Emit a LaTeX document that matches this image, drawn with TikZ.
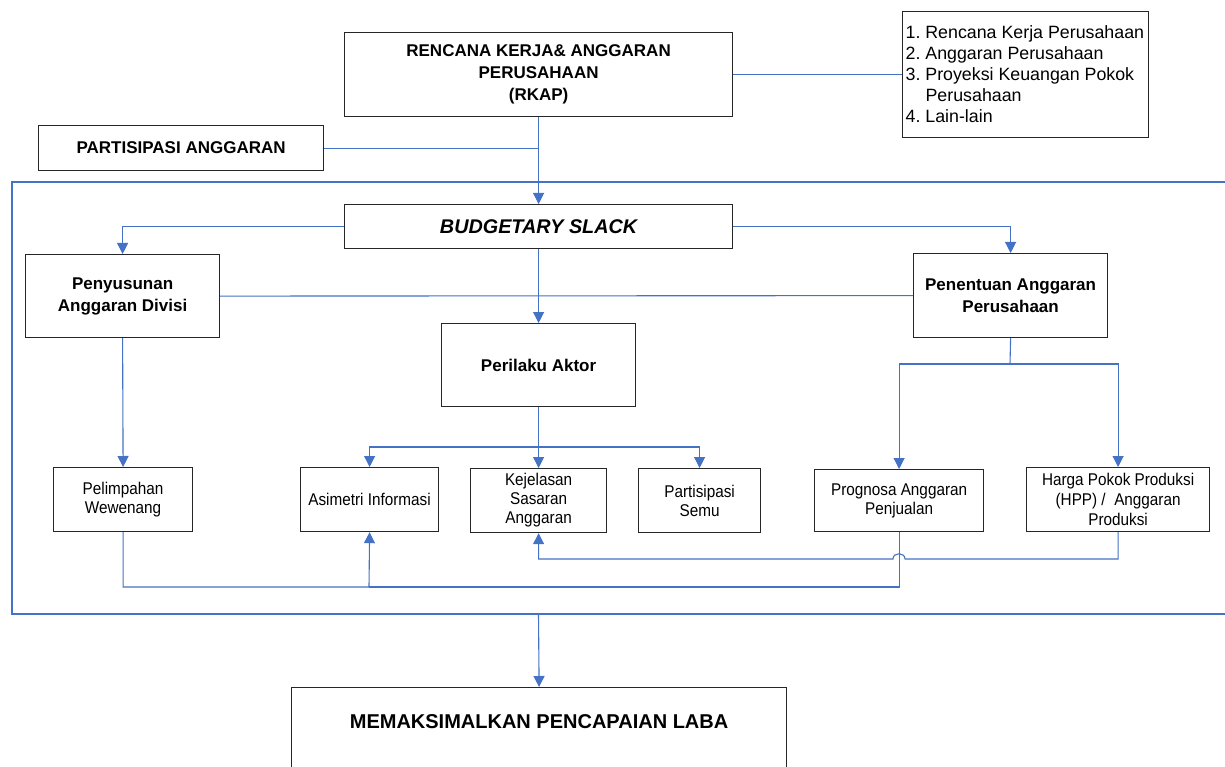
\documentclass[tikz,border=0pt]{standalone}
\usepackage{fontspec}
\setmainfont{Liberation Sans}
\newfontfamily\narrowsans[FakeStretch=0.9]{Liberation Sans}
\usetikzlibrary{arrows.meta}
\definecolor{conn}{RGB}{68,114,196}
\frenchspacing
\begin{document}
\begin{tikzpicture}[x=1pt,y=-1pt,
  box/.style={draw=black!85, line width=1.2pt, fill=white, anchor=north west, inner sep=2pt, align=center},
  boldtxt/.style={font=\bfseries\fontsize{17}{22}\selectfont},
  bigtxt/.style={font=\bfseries\fontsize{20}{23}\selectfont},
  regtxt/.style={font=\narrowsans\fontsize{17}{19}\selectfont},
  wire/.style={draw=conn, line width=1.1pt},
  arr/.style={wire, -{Triangle[width=11pt,length=11pt]}}]
\useasboundingbox (0,0) rectangle (1225,767);
\clip (0,0) rectangle (1225,767);

% frame
\draw[wire] (1240,182) -- (12,182) -- (12,614) -- (1240,614);

% nodes
\node[box, boldtxt, minimum width=388pt, minimum height=84pt] (rkap) at (344,32)
  {RENCANA KERJA\& ANGGARAN\\PERUSAHAAN\\(RKAP)};
\node[box, align=left, inner xsep=3pt, inner ysep=0pt, minimum width=246pt,
  minimum height=126pt, font=\fontsize{17.8}{21}\selectfont] (list) at (902,11)
  {\makebox[240pt][l]{1. Rencana Kerja Perusahaan}\\2. Anggaran Perusahaan\\3. Proyeksi Keuangan Pokok\\\hspace*{20pt}Perusahaan\\4. Lain-lain};
\node[box, boldtxt, minimum width=285pt, minimum height=45pt] (partisipasi) at (38,125)
  {PARTISIPASI ANGGARAN};
\node[box, font=\bfseries\itshape\fontsize{19.8}{23}\selectfont, minimum width=388pt, minimum height=44pt] (budget) at (344,204)
  {BUDGETARY SLACK};
\node[box, boldtxt, minimum width=194pt, minimum height=83pt] (penyusunan) at (25,254)
  {Penyusunan\\Anggaran Divisi};
\node[box, boldtxt, minimum width=194pt, minimum height=84pt] (penentuan) at (913,253)
  {Penentuan Anggaran\\Perusahaan};
\node[box, boldtxt, minimum width=194pt, minimum height=83pt] (perilaku) at (441,323)
  {Perilaku Aktor};
\node[box, regtxt, minimum width=139pt, minimum height=64pt] (pelimpahan) at (53,467)
  {Pelimpahan\\Wewenang};
\node[box, regtxt, minimum width=138pt, minimum height=64pt] (asimetri) at (300,467)
  {Asimetri Informasi};
\node[box, regtxt, minimum width=136pt, minimum height=64pt] (kejelasan) at (470,468)
  {Kejelasan\\Sasaran\\Anggaran};
\node[box, regtxt, minimum width=122pt, minimum height=64pt] (semu) at (638,468)
  {Partisipasi\\Semu};
\node[box, regtxt, minimum width=169pt, minimum height=62pt] (prognosa) at (814,469)
  {Prognosa Anggaran\\Penjualan};
\node[box, regtxt, font=\narrowsans\fontsize{17}{20}\selectfont, minimum width=183pt, minimum height=64pt] (hpp) at (1026,467)
  {Harga Pokok Produksi\\(HPP) /\ \ Anggaran\\Produksi};
\node[box, bigtxt, minimum width=495pt, minimum height=100pt, text height=13.5pt, text depth=31.5pt] (laba) at (291,687)
  {MEMAKSIMALKAN PENCAPAIAN LABA};

% connectors
\draw[wire] (rkap.east) -- (list.west);
\draw[arr] (rkap.south) -- (budget.north);
\draw[wire] (partisipasi.east) -- (partisipasi.east -| rkap.south);
\draw[arr] (budget.west) -| (penyusunan.north);
\draw[arr] (budget.east) -| (penentuan.north);
\draw[arr] (budget.south) -- (perilaku.north);
\draw[wire] (penyusunan.east) -- (penentuan.west);
\draw[arr] (penyusunan.south) -- (pelimpahan.north);

\coordinate (pj) at (1010,364);
\draw[wire] (penentuan.south) -- (pj);
\draw[arr] (pj) -| (prognosa.north);
\draw[arr] (pj) -| (hpp.north);

\coordinate (aj) at (538,447);
\draw[arr] (perilaku.south) -- (kejelasan.north);
\draw[arr] (aj) -| (asimetri.north);
\draw[arr] (aj) -| (semu.north);

\coordinate (bl) at (369,587);
\draw[arr] (pelimpahan.south) |- (bl) -- (asimetri.south);
\draw[wire] (prognosa.south) |- (bl);

\coordinate (hr) at (905,559);
\coordinate (hl) at (893,559);
\draw[arr] (hpp.south) |- (hr) .. controls (905,552) and (893,552) .. (hl) -| (kejelasan.south);

\coordinate (fb) at (538.5,614);
\draw[arr] (fb) -- (laba.north);
\end{tikzpicture}
\end{document}
